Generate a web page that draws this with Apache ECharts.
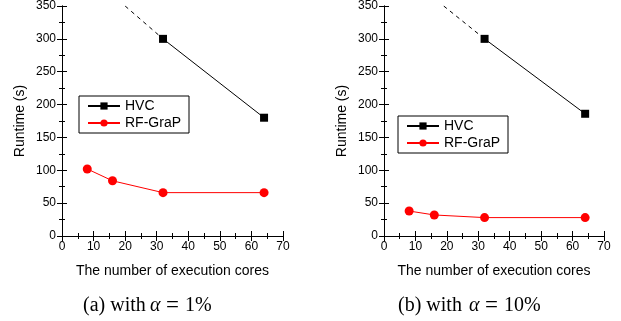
<!DOCTYPE html>
<html>
<head>
<meta charset="utf-8">
<script src="https://cdn.jsdelivr.net/npm/echarts@6/dist/echarts.min.js"></script>
<style>
  html, body { margin: 0; padding: 0; background: #fff; }
  #chart { width: 621px; height: 321px; }
</style>
</head>
<body>
<div id="chart"></div>
<script>
// cores on the x axis
const coresHVC = [32, 64];
const coresRF = [8, 16, 32, 64];

// (a) alpha = 1%
const hvcA = [300, 180];
const rfA = [102, 84, 66, 66];
const hvcDashA = [[20, 350], [32, 300]];

// (b) alpha = 10%
const hvcB = [300, 186];
const rfB = [38, 32, 28, 28];
const hvcDashB = [[19, 350], [32, 300]];

const captionLabels = ['(a)', '(b)'];
const alphaValues = ['1%', '10%'];

const zip = (xs, ys) => xs.map((x, i) => [x, ys[i]]);

const font = 'Liberation Sans, Arial, sans-serif';
const serif = 'Liberation Serif, Times New Roman, serif';
const grids = [
  { left: 62, top: 6, width: 221, height: 230 },
  { left: 384, top: 6, width: 220, height: 230 },
];

function xAxes(i) {
  const base = {
    gridIndex: i, type: 'value', min: 0, max: 70, interval: 10,
    axisLine: { lineStyle: { color: '#000', width: 1 } },
    axisTick: { inside: true, length: 5, lineStyle: { color: '#000' } },
    minorTick: { show: true, splitNumber: 2, length: 3, lineStyle: { color: '#000' } },
    splitLine: { show: false },
  };
  return [
    Object.assign({}, base, {
      position: 'bottom',
      axisLabel: { color: '#000', fontSize: 12, fontFamily: font, margin: 5 },
      name: 'The number of execution cores', nameLocation: 'middle', nameGap: 28,
      nameTextStyle: { color: '#000', fontSize: 14, fontFamily: font },
    }),
    Object.assign({}, base, { position: 'top', axisLabel: { show: false } }),
  ];
}

function yAxes(i) {
  const base = {
    gridIndex: i, type: 'value', min: 0, max: 350, interval: 50,
    axisLine: { show: true, lineStyle: { color: '#000', width: 1 } },
    axisTick: { show: true, inside: true, length: 5, lineStyle: { color: '#000' } },
    minorTick: { show: true, splitNumber: 2, length: 3, lineStyle: { color: '#000' } },
    splitLine: { show: false },
  };
  return [
    Object.assign({}, base, {
      position: 'left',
      axisLabel: { color: '#000', fontSize: 12, fontFamily: font, margin: 6, showMaxLabel: true },
      name: 'Runtime (s)', nameLocation: 'middle', nameGap: 35,
      nameTextStyle: { color: '#000', fontSize: 14, fontFamily: font },
    }),
    Object.assign({}, base, { position: 'right', axisLabel: { show: false } }),
  ];
}

function seriesFor(i, hvc, rf, dash) {
  return [
    {
      name: 'HVC', type: 'line', xAxisIndex: i * 2, yAxisIndex: i * 2,
      data: zip(coresHVC, hvc), symbol: 'rect', symbolSize: 8,
      itemStyle: { color: '#000' }, lineStyle: { color: '#000', width: 1 },
    },
    {
      name: 'RF-GraP', type: 'line', xAxisIndex: i * 2, yAxisIndex: i * 2,
      data: zip(coresRF, rf), symbol: 'circle', symbolSize: 9,
      itemStyle: { color: '#ff0000' }, lineStyle: { color: '#ff0000', width: 1 },
    },
    {
      name: 'dash', type: 'line', xAxisIndex: i * 2, yAxisIndex: i * 2,
      data: dash, symbol: 'none',
      lineStyle: { color: '#000', width: 1, type: [4, 4] },
    },
  ];
}

const legendBase = {
  orient: 'vertical', data: ['HVC', 'RF-GraP'],
  backgroundColor: '#fff', borderColor: '#000', borderWidth: 1, borderRadius: 0,
  padding: [3, 8, 3, 8], itemGap: 3, itemWidth: 32, itemHeight: 9,
  textStyle: { color: '#000', fontSize: 14, fontFamily: font },
  selectedMode: false,
};

// caption pieces: label+"with", italic alpha, "=", value
const capLayout = [
  { left: 83, w: 67, n: 38 },
  { left: 398, w: 71, n: 50 },
];
const capBase = { fontSize: 20, fontFamily: serif, color: '#000', lineHeight: 22 };

const chart = echarts.init(document.getElementById('chart'), null, { renderer: 'canvas' });
chart.setOption({
  backgroundColor: '#fff',
  animation: false,
  grid: grids,
  xAxis: [...xAxes(0), ...xAxes(1)],
  yAxis: [...yAxes(0), ...yAxes(1)],
  legend: [
    Object.assign({}, legendBase, { left: 79, top: 96 }),
    Object.assign({}, legendBase, { left: 398, top: 116 }),
  ],
  title: captionLabels.map((lab, i) => ({
    text: '{w|' + lab + ' with}{i|α}{e|=}{n|' + alphaValues[i] + '}',
    left: capLayout[i].left,
    top: 295,
    padding: 0,
    textStyle: {
      fontSize: 20, fontWeight: 'normal', fontFamily: serif, color: '#000',
      rich: {
        w: Object.assign({}, capBase, { width: capLayout[i].w }),
        i: Object.assign({}, capBase, { fontStyle: 'italic', width: 16 }),
        e: Object.assign({}, capBase, { fontSize: 23, width: 19 }),
        n: Object.assign({}, capBase, { width: capLayout[i].n }),
      },
    },
  })),
  series: [...seriesFor(0, hvcA, rfA, hvcDashA), ...seriesFor(1, hvcB, rfB, hvcDashB)],
});
</script>
</body>
</html>
